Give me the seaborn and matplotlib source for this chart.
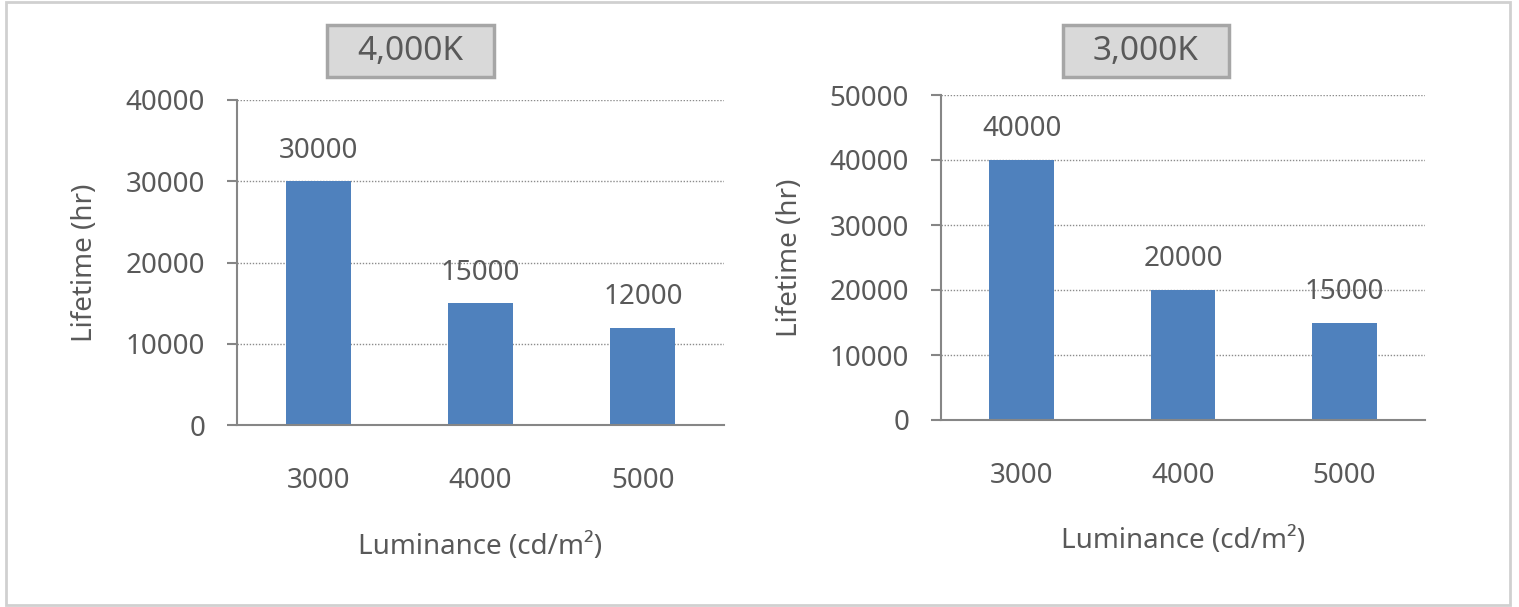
import matplotlib
matplotlib.use("Agg")
import matplotlib.pyplot as plt
import seaborn as sns
import pandas as pd
from matplotlib.patches import Rectangle
from matplotlib.ticker import FixedLocator

# ---- data ----
luminance = ["3000", "4000", "5000"]
lifetime_4000k = [30000, 15000, 12000]
lifetime_3000k = [40000, 20000, 15000]
titles = ["4,000K", "3,000K"]
ymax = [40000, 50000]
ystep = 10000

sns.set_theme(style="white")
plt.rcParams["font.family"] = ["Noto Sans", "DejaVu Sans"]

TXT = "#595959"
BAR = "#4F81BD"
AX = "#868686"
GRID = "#8c8c8c"

fig = plt.figure(figsize=(15.19, 6.07), dpi=100)
W, H = 1519, 607

def fx(x): return x / W
def fy(y): return 1 - y / H

# outer border
fig.patches.append(Rectangle((fx(6), fy(605)), fx(1510) - fx(6), fy(2) - fy(605),
                             transform=fig.transFigure, fill=False,
                             edgecolor="#d0d0d0", linewidth=2))

axes_px = [(237, 724, 100, 425), (941, 1425, 95, 420)]
series = [lifetime_4000k, lifetime_3000k]
title_box = [(327, 494, 25, 77), (1063, 1229, 25, 77)]
ylabel_x = [85, 790]
xlabel_y = [547, 541]

for i in range(2):
    l, r, t, b = axes_px[i]
    ax = fig.add_axes([fx(l), fy(b), fx(r) - fx(l), fy(t) - fy(b)])
    df = pd.DataFrame({"Luminance": luminance, "Lifetime": series[i]})
    sns.barplot(data=df, x="Luminance", y="Lifetime", color=BAR, width=0.4,
                saturation=1, ax=ax)
    for p in ax.patches:
        p.set_edgecolor("none")
    ax.set_xlim(-0.5, 2.5)
    ax.set_ylim(0, ymax[i])
    yt = list(range(0, ymax[i] + 1, ystep))
    ax.set_yticks(yt)
    ax.set_yticklabels([str(v) for v in yt])
    for v in yt[1:]:
        ax.axhline(v, color=GRID, linestyle=(0, (1, 1.2)), linewidth=1, zorder=0)
    for s in ["top", "right"]:
        ax.spines[s].set_visible(False)
    for s in ["left", "bottom"]:
        ax.spines[s].set_color(AX)
        ax.spines[s].set_linewidth(1.5)
    ax.xaxis.set_minor_locator(FixedLocator([-0.5, 0.5, 1.5, 2.5]))
    ax.tick_params(axis="x", which="major", length=0, pad=30, labelsize=20, labelcolor=TXT)
    ax.tick_params(axis="x", which="minor", length=8, width=1.5, color=AX, direction="out")
    ax.tick_params(axis="y", length=7, width=1.5, color=AX, direction="out", pad=16,
                   labelsize=20, labelcolor=TXT, left=True)
    ax.set_xlabel("")
    ax.set_ylabel("")
    for j, v in enumerate(series[i]):
        ax.annotate(str(v), (j, v), xytext=(0, 22), textcoords="offset points",
                    ha="center", va="center", fontsize=20, color=TXT)
    # axis labels
    fig.text(fx(ylabel_x[i]), fy((t + b) / 2 - 0), "Lifetime (hr)", rotation=90,
             ha="center", va="center", fontsize=20, color=TXT)
    fig.text(fx((l + r) / 2), fy(xlabel_y[i]), "Luminance (cd/m²)",
             ha="center", va="center", fontsize=20, color=TXT)
    # title box
    bl, br, bt, bb = title_box[i]
    fig.patches.append(Rectangle((fx(bl), fy(bb)), fx(br) - fx(bl), fy(bt) - fy(bb),
                                 transform=fig.transFigure, facecolor="#d9d9d9",
                                 edgecolor="#a6a6a6", linewidth=2.5))
    fig.text(fx((bl + br) / 2), fy((bt + bb) / 2), titles[i], ha="center", va="center",
             fontsize=24, color=TXT)

fig.savefig("out.png", dpi=100, facecolor="white")
